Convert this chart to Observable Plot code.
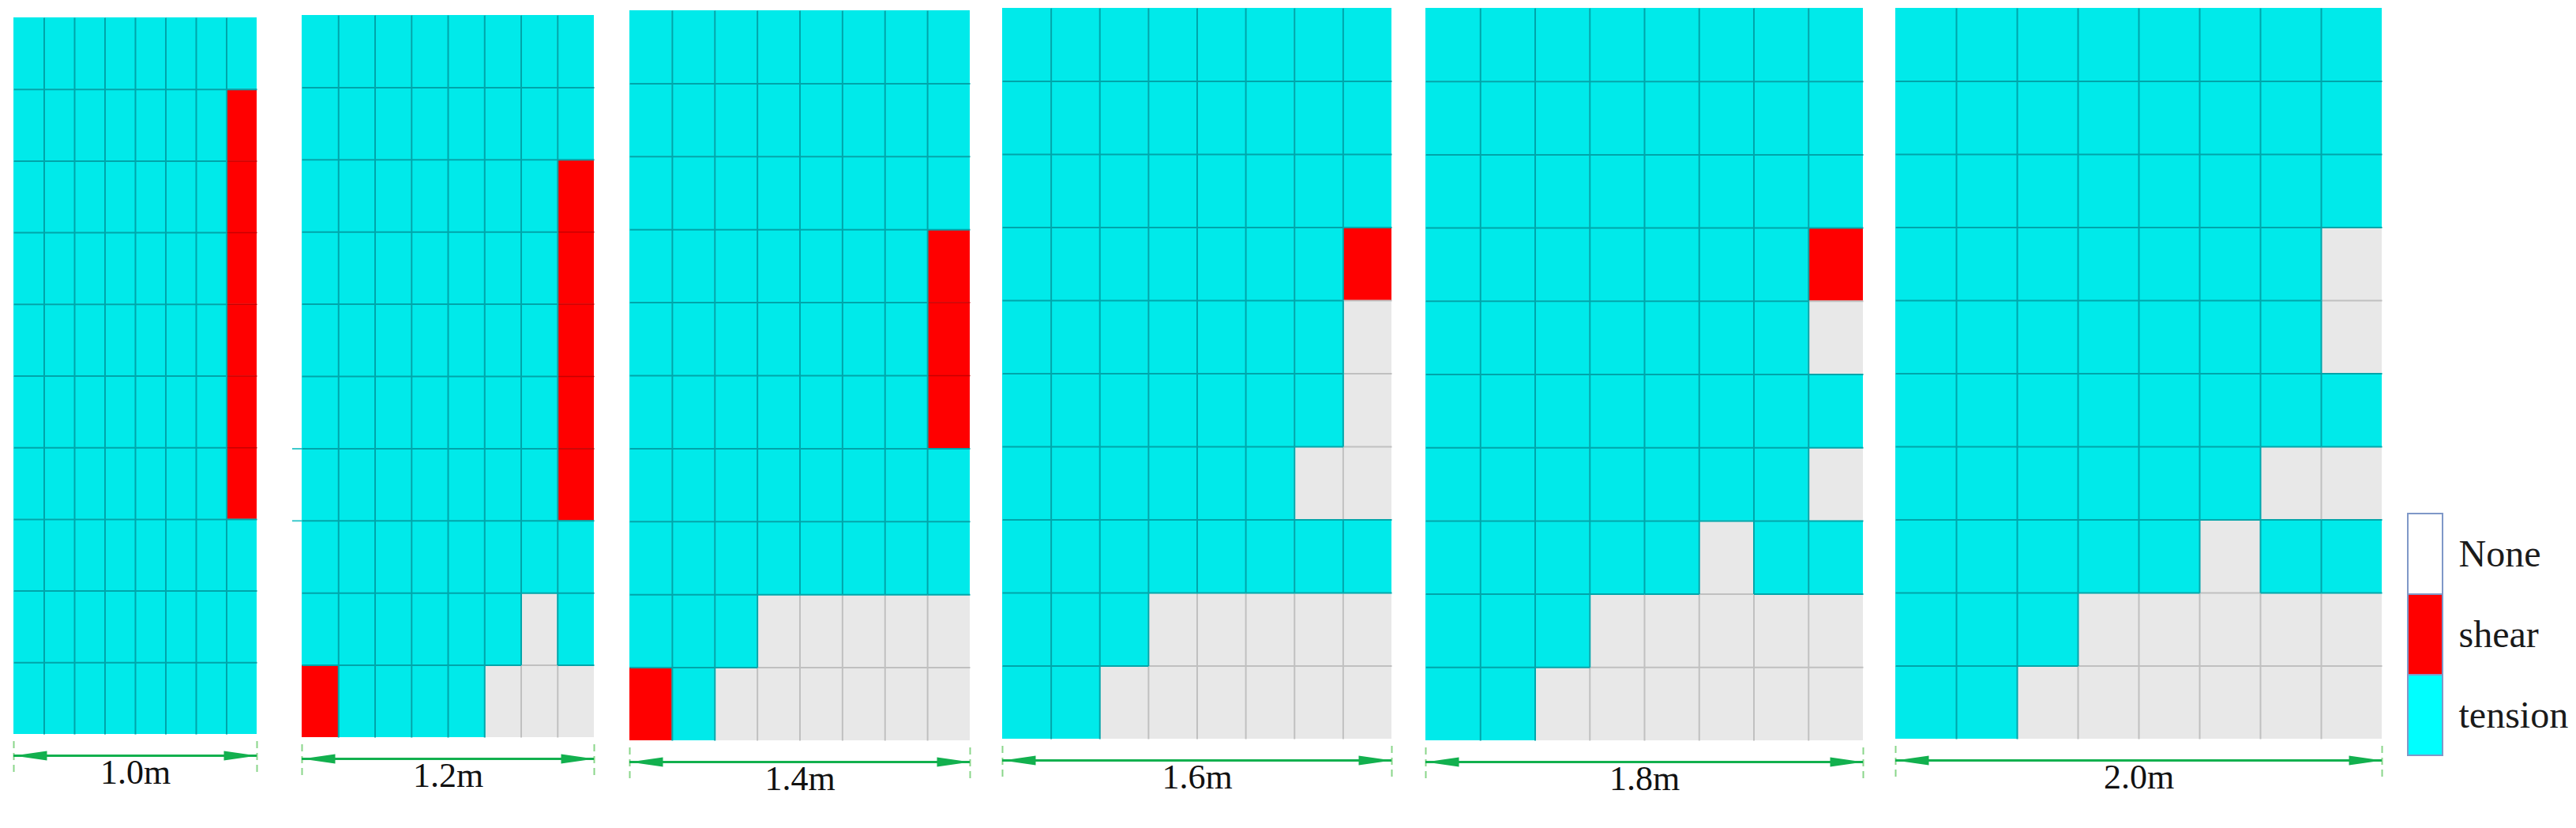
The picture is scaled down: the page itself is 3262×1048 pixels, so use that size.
<!DOCTYPE html>
<html>
<head>
<meta charset="utf-8">
<script src="https://cdn.jsdelivr.net/npm/d3@7"></script>
<script src="https://cdn.jsdelivr.net/npm/@observablehq/plot@0.6"></script>
<style>
  html, body { margin: 0; padding: 0; background: #ffffff; }
  #chart { position: relative; width: 3262px; height: 1048px; overflow: hidden; background: #ffffff; }
  #chart svg { position: absolute; top: 0; overflow: visible; }
</style>
</head>
<body>
<div id="chart"></div>
<script>
// ---------------- DATA ----------------
// Widths of the six models (m) and their labels
const widths = [1.0, 1.2, 1.4, 1.6, 1.8, 2.0];
const widthLabels = ["1.0m", "1.2m", "1.4m", "1.6m", "1.8m", "2.0m"];

// Failure state legend categories
const legendCategories = ["None", "shear", "tension"];
// Cell codes: T = tension, S = shear, N = None (rows top -> bottom, 8 columns left -> right)
const stateCodes = { T: "tension", S: "shear", N: "None" };

const grid10 = [
  "TTTTTTTT",
  "TTTTTTTS",
  "TTTTTTTS",
  "TTTTTTTS",
  "TTTTTTTS",
  "TTTTTTTS",
  "TTTTTTTS",
  "TTTTTTTT",
  "TTTTTTTT",
  "TTTTTTTT"
];
const grid12 = [
  "TTTTTTTT",
  "TTTTTTTT",
  "TTTTTTTS",
  "TTTTTTTS",
  "TTTTTTTS",
  "TTTTTTTS",
  "TTTTTTTS",
  "TTTTTTTT",
  "TTTTTTNT",
  "STTTTNNN"
];
const grid14 = [
  "TTTTTTTT",
  "TTTTTTTT",
  "TTTTTTTT",
  "TTTTTTTS",
  "TTTTTTTS",
  "TTTTTTTS",
  "TTTTTTTT",
  "TTTTTTTT",
  "TTTNNNNN",
  "STNNNNNN"
];
const grid16 = [
  "TTTTTTTT",
  "TTTTTTTT",
  "TTTTTTTT",
  "TTTTTTTS",
  "TTTTTTTN",
  "TTTTTTTN",
  "TTTTTTNN",
  "TTTTTTTT",
  "TTTNNNNN",
  "TTNNNNNN"
];
const grid18 = [
  "TTTTTTTT",
  "TTTTTTTT",
  "TTTTTTTT",
  "TTTTTTTS",
  "TTTTTTTN",
  "TTTTTTTT",
  "TTTTTTTN",
  "TTTTTNTT",
  "TTTNNNNN",
  "TTNNNNNN"
];
const grid20 = [
  "TTTTTTTT",
  "TTTTTTTT",
  "TTTTTTTT",
  "TTTTTTTN",
  "TTTTTTTN",
  "TTTTTTTT",
  "TTTTTTNN",
  "TTTTTNTT",
  "TTTNNNNN",
  "TTNNNNNN"
];
const grids = [grid10, grid12, grid14, grid16, grid18, grid20];
// stray grid-line stubs left of the 1.2m panel (row boundaries)
const stubRows = [[], [6, 7], [], [], [], []];

// ---------------- LAYOUT / STYLE ----------------
const PX_PER_M = 308;
const panelLeft = [17, 382, 797, 1269, 1805, 2400];
const panelTop = [22, 19, 13, 10, 10, 10];
const panelBottom = [929, 933, 937, 935, 937, 935];
const SIDE = 30;
const H = 1048;
const SERIF = "'Liberation Serif', 'Times New Roman', 'DejaVu Serif', serif";
const CELL_COLORS = { domain: legendCategories, range: ["#e8e8e8", "#ff0000", "#00eaea"] };
const LEGEND_COLORS = { domain: legendCategories, range: ["#ffffff", "#ff0000", "#00ffff"] };
const GREEN = "#12b04e";

// elongated filled arrowhead, tip at origin pointing right
const arrowHead = {
  draw(ctx) {
    const L = 42, h = 6;
    ctx.moveTo(0, 0);
    ctx.lineTo(-L, -h);
    ctx.lineTo(-L, h);
    ctx.closePath();
  }
};

const chart = document.getElementById("chart");

grids.forEach((grid, p) => {
  const w = widths[p];
  const nRows = grid.length;
  const nCols = grid[0].length;
  const cw = w / nCols;
  const cells = [];
  grid.forEach((rowStr, r) => {
    [...rowStr].forEach((ch, c) => {
      cells.push({ x1: c * cw, x2: (c + 1) * cw, y1: r, y2: r + 1, state: stateCodes[ch] });
    });
  });
  const stateAt = (r, c) => stateCodes[grid[r][c]];
  // internal grid edges with their line class
  const edges = [];
  const edgeClass = (a, b) => (a === "tension" || b === "tension") ? "teal" : (a === "shear" && b === "shear") ? "red" : "gray";
  for (let r = 0; r < nRows; r++) {
    for (let c = 0; c < nCols; c++) {
      if (c > 0) edges.push({ x1: c * cw, x2: c * cw, y1: r, y2: r + 1, k: edgeClass(stateAt(r, c - 1), stateAt(r, c)) });
      if (r > 0) edges.push({ x1: c * cw, x2: (c + 1) * cw, y1: r, y2: r, k: edgeClass(stateAt(r - 1, c), stateAt(r, c)) });
    }
  }
  const edgeMark = (k, color, width) => Plot.link(edges.filter(e => e.k === k), {
    x1: "x1", x2: "x2", y1: "y1", y2: "y2", stroke: color, strokeWidth: width
  });
  const pw = Math.round(w * PX_PER_M);
  const svg = Plot.plot({
    width: pw + 2 * SIDE,
    height: H,
    marginLeft: SIDE,
    marginRight: SIDE,
    marginTop: panelTop[p],
    marginBottom: H - panelBottom[p],
    style: { background: "transparent", overflow: "visible" },
    x: { domain: [0, w], axis: null },
    y: { domain: [0, nRows], reverse: true, axis: null },
    color: CELL_COLORS,
    marks: [
      Plot.ruleY(stubRows[p], { y: d => d, insetLeft: -12, stroke: "#3cc9cc", strokeWidth: 2 }),
      Plot.rect(cells, { x1: "x1", x2: "x2", y1: "y1", y2: "y2", fill: "state" }),
      edgeMark("gray", "#c0c0c0", 2),
      edgeMark("red", "#c80000", 1.5),
      edgeMark("teal", "#00a5aa", 2),
      // dimension line
      Plot.ruleX([0, w], { x: d => d, y1: nRows, y2: nRows, insetTop: 9, insetBottom: -50,
        stroke: "#8ad68a", strokeWidth: 2, strokeDasharray: "9,6" }),
      Plot.ruleY([nRows], { y: d => d, x1: 0, x2: w, dy: 27, stroke: GREEN, strokeWidth: 3 }),
      Plot.dot([{ x: 0, a: 180 }, { x: w, a: 0 }], { x: "x", y: nRows, rotate: "a", dy: 27,
        symbol: arrowHead, fill: GREEN, stroke: "none" }),
      Plot.text([widthLabels[p]], { x: w / 2, y: nRows, text: d => d, dy: 48,
        fontSize: 44, fontFamily: SERIF, fill: "#111111" })
    ]
  });
  svg.style.left = (panelLeft[p] - SIDE) + "px";
  chart.appendChild(svg);
});

// legend
const legend = Plot.plot({
  width: 213,
  height: H,
  marginLeft: 0,
  marginRight: 213 - 44,
  marginTop: 650,
  marginBottom: H - 956,
  style: { background: "transparent", overflow: "visible" },
  x: { axis: null },
  y: { domain: legendCategories, axis: null, padding: 0 },
  color: LEGEND_COLORS,
  marks: [
    Plot.cell(legendCategories, { y: d => d, fill: d => d, stroke: "#7f98c8", strokeWidth: 2 }),
    Plot.text(legendCategories, { y: d => d, text: d => d, frameAnchor: "right", textAnchor: "start",
      dx: 20, fontSize: 48, fontFamily: SERIF, fill: "#1a1a1a" })
  ]
});
legend.style.left = "3049px";
chart.appendChild(legend);
</script>
</body>
</html>
